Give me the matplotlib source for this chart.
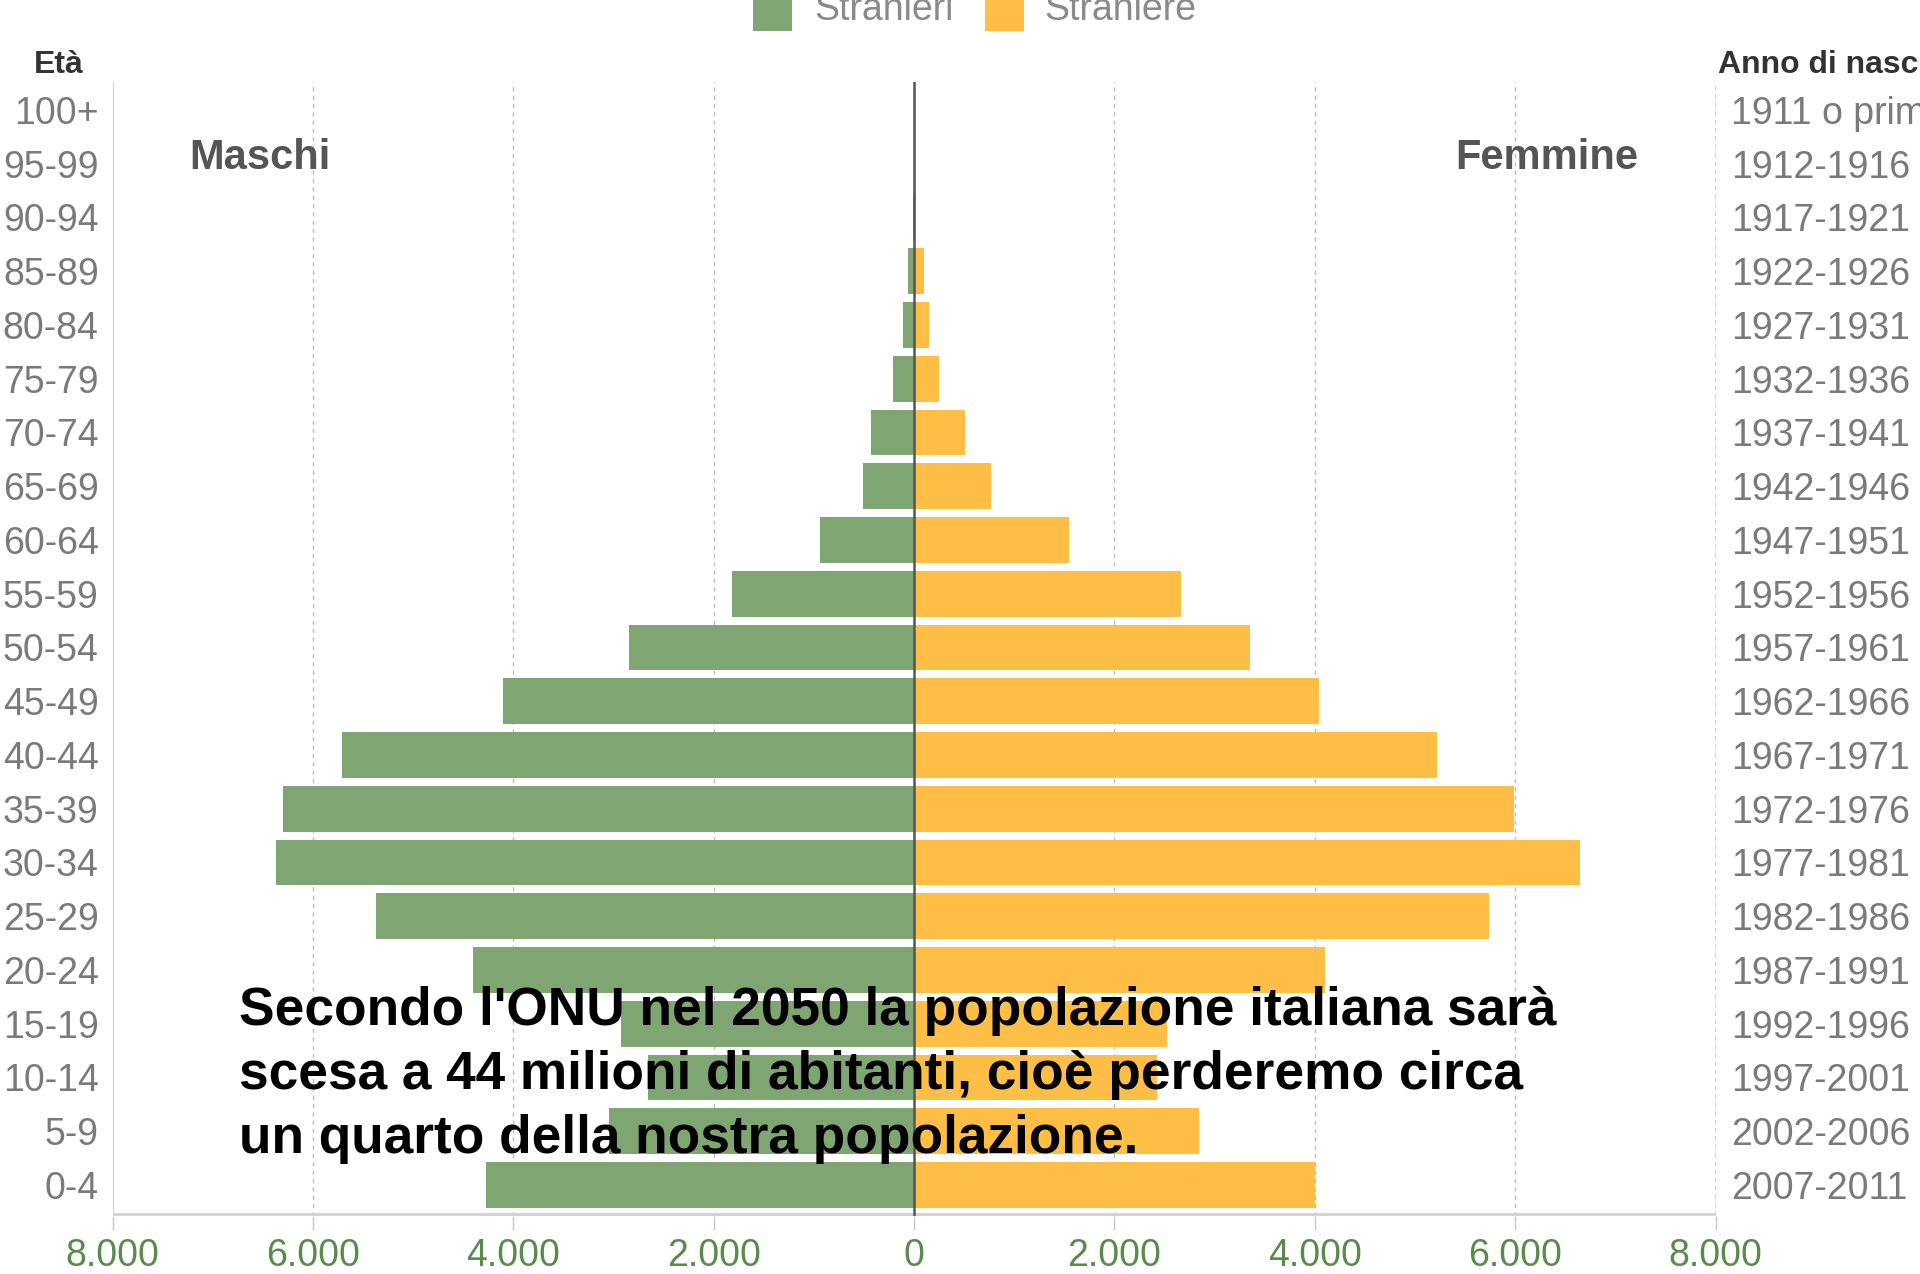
import matplotlib
matplotlib.use("Agg")
import matplotlib.pyplot as plt
from matplotlib.patches import Rectangle

age_groups = ["0-4", "5-9", "10-14", "15-19", "20-24", "25-29", "30-34", "35-39",
              "40-44", "45-49", "50-54", "55-59", "60-64", "65-69", "70-74",
              "75-79", "80-84", "85-89", "90-94", "95-99", "100+"]
birth_years = ["2007-2011", "2002-2006", "1997-2001", "1992-1996", "1987-1991",
               "1982-1986", "1977-1981", "1972-1976", "1967-1971", "1962-1966",
               "1957-1961", "1952-1956", "1947-1951", "1942-1946", "1937-1941",
               "1932-1936", "1927-1931", "1922-1926", "1917-1921", "1912-1916",
               "1911 o prima"]
males = [4270, 3040, 2660, 2930, 4400, 5370, 6370, 6300, 5710, 4100, 2850,
         1820, 940, 510, 430, 210, 110, 60, 10, 0, 0]
females = [4000, 2840, 2430, 2520, 4100, 5740, 6650, 5990, 5220, 4040, 3350,
           2660, 1550, 770, 510, 250, 150, 100, 20, 0, 0]
x_ticks = [-8000, -6000, -4000, -2000, 0, 2000, 4000, 6000, 8000]
x_tick_labels = ["8.000", "6.000", "4.000", "2.000", "0", "2.000", "4.000", "6.000", "8.000"]

GREEN = "#7fa672"
ORANGE = "#ffbf47"
FONT = "Liberation Sans"

W, H = 1920, 1274
fig = plt.figure(figsize=(W / 100, H / 100), dpi=100)
fig.patch.set_facecolor("white")

ax_left, ax_right = 112.6, 1715.5
ax_top, ax_bottom = 82, 1216
ax = fig.add_axes([ax_left / W, 1 - ax_bottom / H, (ax_right - ax_left) / W, (ax_bottom - ax_top) / H])
ax.set_xlim(-8000, 8000)
ax.set_ylim(-0.577, 20.52)

y = list(range(len(age_groups)))
ax.barh(y, [-m for m in males], height=0.85, color=GREEN, zorder=2)
ax.barh(y, females, height=0.85, color=ORANGE, zorder=2)

for xv in [-6000, -4000, -2000, 2000, 4000, 6000]:
    ax.axvline(xv, color="#bdbdbd", lw=1.0, ls=(0, (3, 3)), zorder=1)
ax.axvline(0, color="#555555", lw=1.8, zorder=3)
ax.axvline(-8000, color="#c8c8c8", lw=1.2, zorder=1)
ax.axvline(8000, color="#c8c8c8", lw=1.2, ls=(0, (3, 2)), zorder=1)
ax.axhline(-0.577, color="#d4d4d4", lw=5, zorder=1)

for s in ax.spines.values():
    s.set_visible(False)
ax.set_xticks(x_ticks)
ax.set_xticklabels(x_tick_labels, fontfamily=FONT, fontsize=27, color="#5a8a4c")
ax.tick_params(axis="x", length=10, width=1, color="#c8c8c8", pad=6)
ax.set_yticks(y)
ax.set_yticklabels(age_groups, fontfamily=FONT, fontsize=27, color="#7a7a7a")
ax.tick_params(axis="y", length=0, pad=10)

ax2 = ax.twinx()
ax2.set_ylim(ax.get_ylim())
ax2.set_yticks(y)
ax2.set_yticklabels(birth_years, fontfamily=FONT, fontsize=27, color="#7a7a7a")
ax2.tick_params(axis="y", length=0, pad=11)
for s in ax2.spines.values():
    s.set_visible(False)

# header texts
fig.text(59 / W, 1 - 65 / H, "Età", ha="center", va="center", fontfamily=FONT,
         fontweight="bold", fontsize=23, color="#333333")
fig.text(1718 / W, 1 - 65 / H, "Anno di nascita", ha="left", va="center", fontfamily=FONT,
         fontweight="bold", fontsize=23, color="#333333")
fig.text(260 / W, 1 - 158 / H, "Maschi", ha="center", va="center", fontfamily=FONT,
         fontweight="bold", fontsize=30, color="#555555")
fig.text(1547 / W, 1 - 158 / H, "Femmine", ha="center", va="center", fontfamily=FONT,
         fontweight="bold", fontsize=30, color="#555555")

# legend (cut at top, as in the reference)
fig.patches.append(Rectangle((753 / W, 1 - 31 / H), 39 / W, 40 / H, transform=fig.transFigure,
                             facecolor=GREEN, edgecolor="none"))
fig.patches.append(Rectangle((985 / W, 1 - 31 / H), 39 / W, 40 / H, transform=fig.transFigure,
                             facecolor=ORANGE, edgecolor="none"))
fig.text(814 / W, 1 - 10 / H, "Stranieri", ha="left", va="center", fontfamily=FONT,
         fontsize=27, color="#8a8a8a")
fig.text(1044 / W, 1 - 10 / H, "Straniere", ha="left", va="center", fontfamily=FONT,
         fontsize=27, color="#8a8a8a")

# overlay caption
lines = ["Secondo l'ONU nel 2050 la popolazione italiana sarà",
         "scesa a 44 milioni di abitanti, cioè perderemo circa",
         "un quarto della nostra popolazione."]
line_y = [1011, 1075, 1139]
for t, yy in zip(lines, line_y):
    fig.text(239 / W, 1 - yy / H, t, ha="left", va="center", fontfamily=FONT,
             fontweight="bold", fontsize=38.3, color="black", zorder=10)

fig.savefig("out.png", dpi=100, facecolor="white")
